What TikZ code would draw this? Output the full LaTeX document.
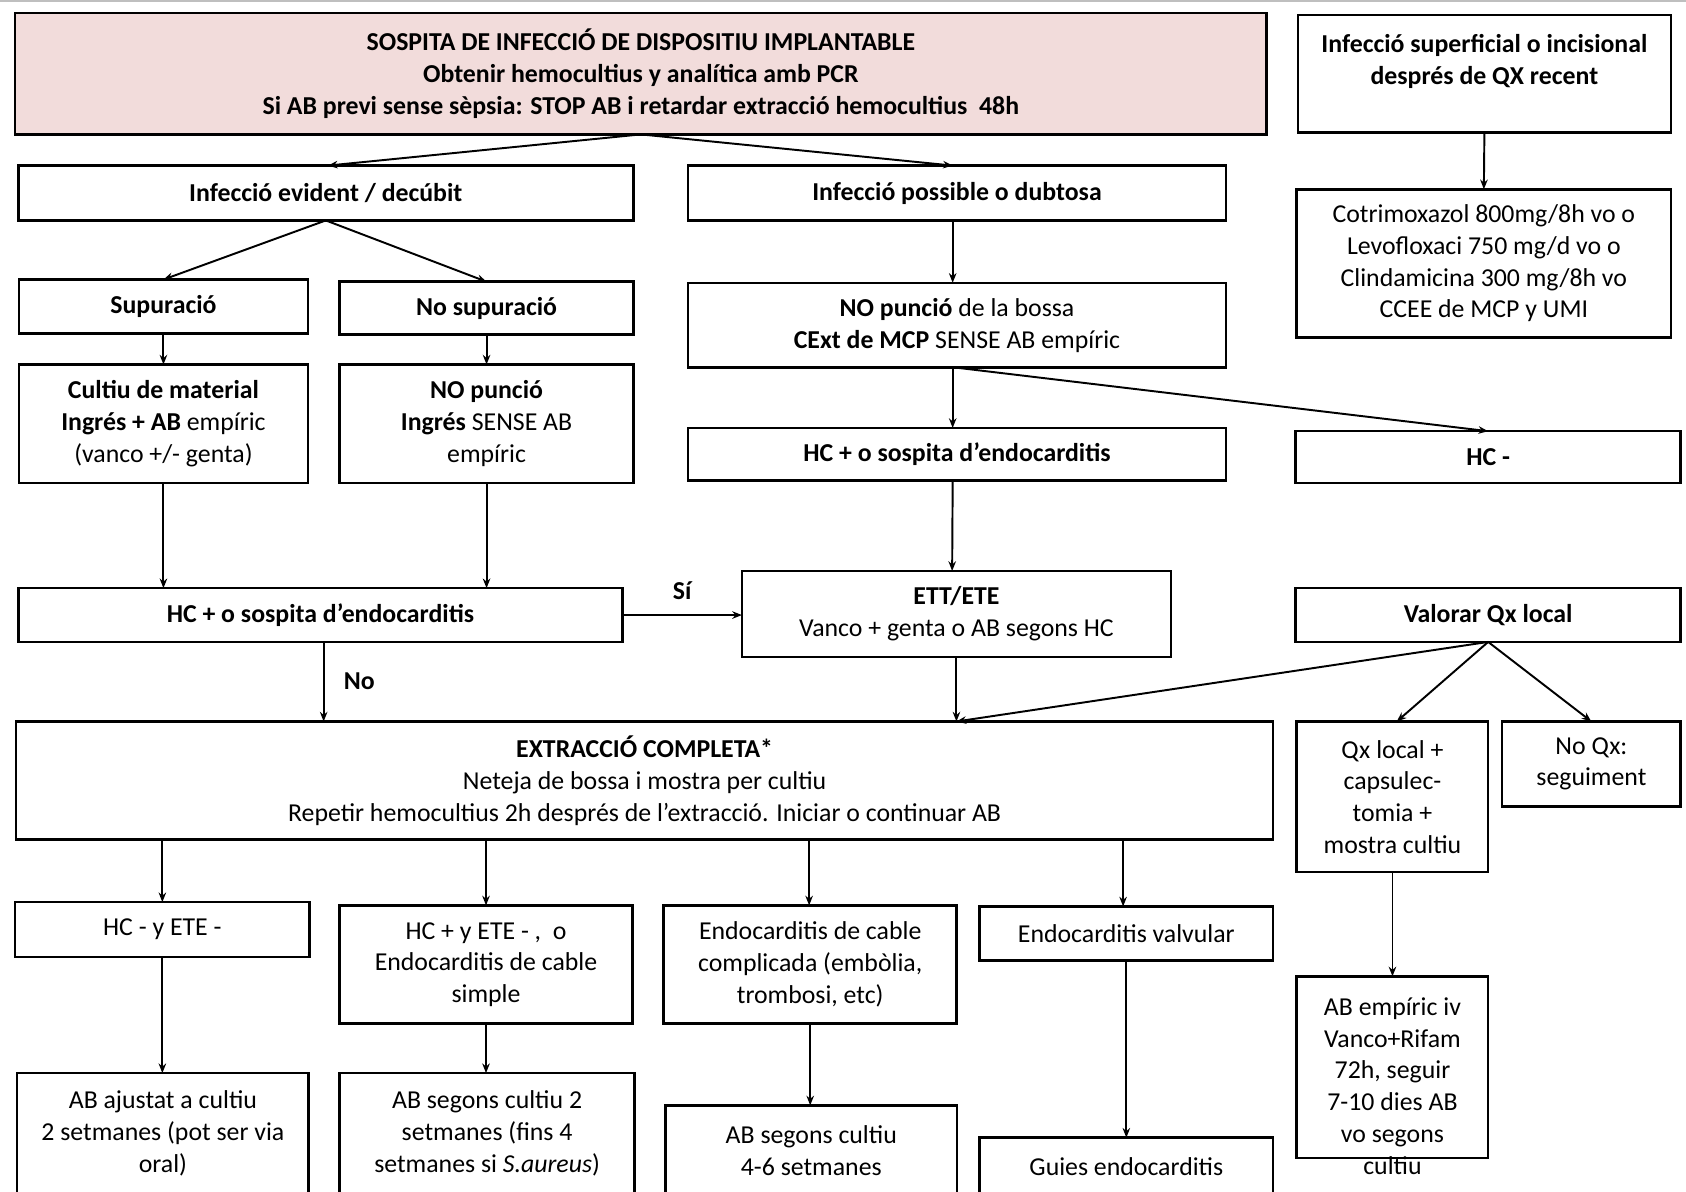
\documentclass[tikz,border=0pt]{standalone}
\usepackage{fontspec}
\setmainfont{Carlito}
\usetikzlibrary{arrows.meta}
\definecolor{headpink}{RGB}{242,220,219}
\begin{document}
\begin{tikzpicture}[x=1pt,y=-1pt,
  box/.style={draw=black, line width=2.4pt, fill=white, inner sep=0pt, outer sep=0pt,
    align=center, font=\fontsize{24}{29.5}\selectfont},
  txt/.style={inner sep=0pt, outer sep=0pt, align=center, font=\fontsize{24}{29.5}\selectfont},
  arr/.style={line width=1.8pt, -{Stealth[length=9pt,width=7pt]}},
  lab/.style={inner sep=0pt, font=\fontsize{24}{29.5}\selectfont\bfseries},
]
\useasboundingbox (0,0) rectangle (1568,1108);
\begin{scope}
\clip (0,0) rectangle (1568,1108);
\draw[black!25, line width=1.2pt] (0,1) -- (1568,1);

% --- header ---
\node[box, fill=headpink, minimum width=1164pt, minimum height=113pt, font=\fontsize{24}{29.5}\selectfont\bfseries] (top) at (596,68.5)
  {SOSPITA DE INFECCIÓ DE DISPOSITIU IMPLANTABLE\\
   Obtenir hemocultius y analítica amb PCR\\
   Si AB previ sense sèpsia: STOP AB i retardar extracció hemocultius\ \ 48h};
\node[box, minimum width=347pt, minimum height=109pt] (sup) at (1380.5,68.5) {};
\node[txt, font=\fontsize{24}{29.5}\selectfont\bfseries] (supt) at (1380.5,57)
  {Infecció superficial o incisional\\després de QX recent};
\node[box, minimum width=348pt, minimum height=138pt] (cotri) at (1380,245)
  {Cotrimoxazol 800mg/8h vo o\\Levofloxaci 750 mg/d vo o\\Clindamicina 300 mg/8h vo\\CCEE de MCP y UMI};

% --- second level ---
\node[box, minimum width=572pt, minimum height=51pt, font=\fontsize{24}{29.5}\selectfont\bfseries] (evid) at (303,179.5) {Infecció evident / decúbit};
\node[box, minimum width=500pt, minimum height=51pt, font=\fontsize{24}{29.5}\selectfont\bfseries] (poss) at (890,179.5) {Infecció possible o dubtosa};

\node[box, minimum width=269pt, minimum height=50pt, font=\fontsize{24}{29.5}\selectfont\bfseries] (supu) at (152,285) {Supuració};
\node[box, minimum width=273pt, minimum height=49pt, font=\fontsize{24}{29.5}\selectfont\bfseries] (nosupu) at (452.5,286.5) {No supuració};
\node[box, minimum width=500pt, minimum height=79pt] (nopun) at (890,302.5)
  {\textbf{NO punció} de la bossa\\\textbf{CExt de MCP} SENSE AB empíric};

\node[box, minimum width=269pt, minimum height=110pt] (cultiu) at (152,394)
  {\textbf{Cultiu de material}\\\textbf{Ingrés + AB} empíric\\(vanco +/- genta)};
\node[box, minimum width=273pt, minimum height=110pt] (nopunl) at (452.5,394)
  {\textbf{NO punció}\\\textbf{Ingrés} SENSE AB\\empíric};
\node[box, minimum width=500pt, minimum height=49pt, font=\fontsize{24}{29.5}\selectfont\bfseries] (hcpm) at (890,422.5) {HC + o sospita d’endocarditis};
\node[box, minimum width=358pt, minimum height=48pt, font=\fontsize{24}{29.5}\selectfont\bfseries] (hcneg) at (1384,425) {HC -};

\node[box, minimum width=561.5pt, minimum height=50pt, font=\fontsize{24}{29.5}\selectfont\bfseries] (hcpl) at (298,572) {HC + o sospita d’endocarditis};
\node[box, minimum width=399pt, minimum height=80pt] (ett) at (889.5,571)
  {\textbf{ETT/ETE}\\Vanco + genta o AB segons HC};
\node[box, minimum width=358pt, minimum height=50pt, font=\fontsize{24}{29.5}\selectfont\bfseries] (valorar) at (1384,572) {Valorar Qx local};

% --- extraction ---
\node[box, minimum width=1169pt, minimum height=110pt] (extr) at (599.5,726)
  {\textbf{EXTRACCIÓ COMPLETA*}\\Neteja de bossa i mostra per cultiu\\Repetir hemocultius 2h després de l’extracció. Iniciar o continuar AB};
\node[box, minimum width=178pt, minimum height=140pt] (qxl) at (1295,741)
  {Qx local +\\capsulec-\\tomia +\\mostra cultiu};
\node[box, minimum width=166pt, minimum height=79pt] (noqx) at (1480,710.5)
  {No Qx:\\seguiment};

% --- outcomes ---
\node[box, minimum width=274pt, minimum height=51pt] (b1) at (151,864.5) {HC - y ETE -};
\node[box, minimum width=272.5pt, minimum height=110pt] (b2) at (452,897)
  {HC + y ETE - ,\ \ o\\Endocarditis de cable\\simple};
\node[box, minimum width=272.5pt, minimum height=110pt] (b3) at (753.5,897)
  {Endocarditis de cable\\complicada (embòlia,\\trombosi, etc)};
\node[box, minimum width=273pt, minimum height=50pt] (b4) at (1047.5,868) {Endocarditis valvular};

\node[box, minimum width=271pt, minimum height=112pt] (c1) at (151.5,1054)
  {AB ajustat a cultiu\\2 setmanes (pot ser via\\oral)};
\node[box, minimum width=274pt, minimum height=112pt] (c2) at (453,1054)
  {AB segons cultiu 2\\setmanes (fins 4\\setmanes si \textit{S.aureus})};
\node[box, minimum width=271pt, minimum height=84pt] (c3) at (754.5,1070)
  {AB segons cultiu\\4-6 setmanes};
\node[box, minimum width=273pt, minimum height=54pt] (c4) at (1047.5,1085) {Guies endocarditis};
\node[box, minimum width=178pt, minimum height=169pt] (abiv) at (1295,992.5) {};
\node[txt] (abivt) at (1295,1010)
  {AB empíric iv\\Vanco+Rifam\\72h, seguir\\7-10 dies AB\\vo segons\\cultiu};

% --- connectors ---
\draw[arr] (top.south) -- ([xshift=2pt]evid.north);
\draw[arr] (top.south) -- ([xshift=-4pt]poss.north);
\draw[arr] (sup.south) -- (cotri.north);
\draw[arr] (evid.south) -- (supu.north);
\draw[arr] (evid.south) -- (nosupu.north);
\draw[arr] (supu.south) -- (cultiu.north);
\draw[arr] (nosupu.south) -- (nopunl.north);
\draw[arr] ([xshift=-4pt]poss.south) -- ([xshift=-4pt]nopun.north);
\draw[arr] ([xshift=-4pt]nopun.south) -- ([xshift=-4pt]hcpm.north);
\draw[arr] (nopun.south) -- (hcneg.north);
\draw[arr] (cultiu.south) -- (cultiu.south |- hcpl.north);
\draw[arr] (nopunl.south) -- (nopunl.south |- hcpl.north);
\draw[arr] (hcpl.east) -- (hcpl.east -| ett.west) node[lab, midway, above=13pt] (si) {Sí};
\draw[arr] ([xshift=3pt]hcpl.south) -- ([xshift=3pt]hcpl.south |- extr.north) node[lab, midway, right=18pt] (no) {No};
\draw[arr] ([xshift=-4pt]hcpm.south) -- ([xshift=-4pt]ett.north);
\draw[arr] (ett.south) -- (ett.south |- extr.north);
\draw[arr] (valorar.south) -- (ett.south |- extr.north);
\draw[arr] (valorar.south) -- ([xshift=4pt]qxl.north);
\draw[arr] (valorar.south) -- (noqx.north);
\draw[arr] (b1.north |- extr.south) -- (b1.north);
\draw[arr] (b2.north |- extr.south) -- (b2.north);
\draw[arr] ([xshift=-1pt]b3.north |- extr.south) -- ([xshift=-1pt]b3.north);
\draw[arr] ([xshift=-3pt]b4.north |- extr.south) -- ([xshift=-3pt]b4.north);
\draw[arr] (b1.south) -- (b1.south |- c1.north);
\draw[arr] (b2.south) -- (b2.south |- c2.north);
\draw[arr] (b3.south) -- (b3.south |- c3.north);
\draw[arr] (b4.south) -- (b4.south |- c4.north);
\draw[arr] (qxl.south) -- (abiv.north);
\end{scope}
\end{tikzpicture}
\end{document}
